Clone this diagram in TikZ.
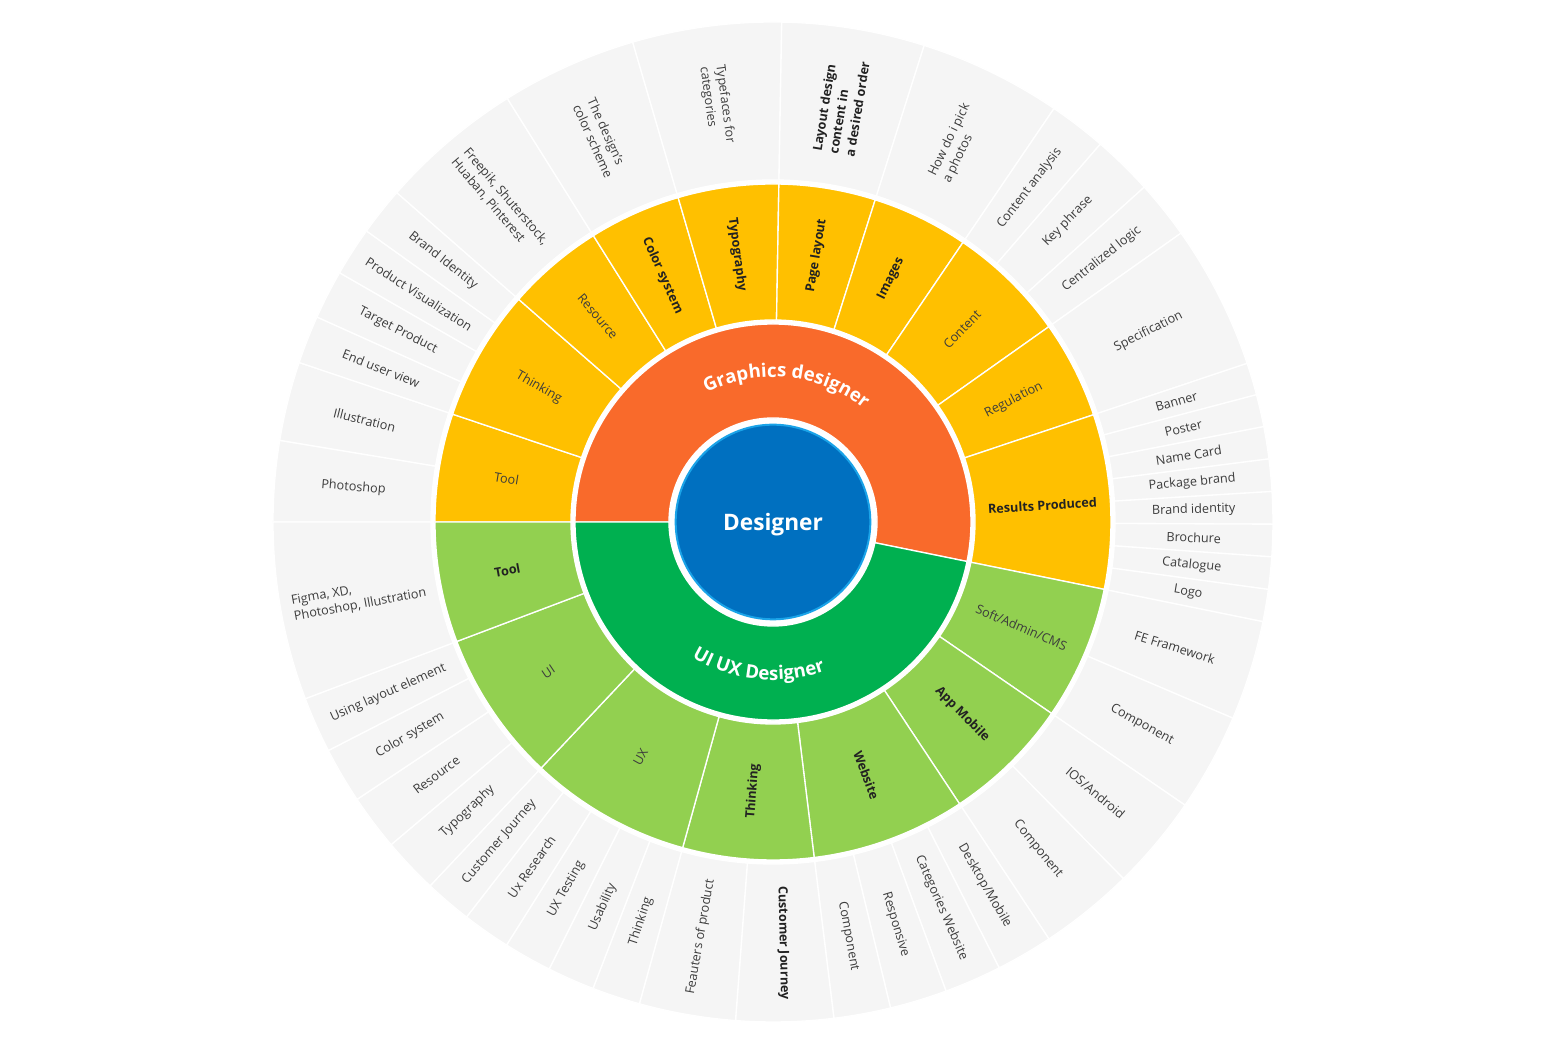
\documentclass[tikz,border=0pt]{standalone}
\usepackage{fontspec}
\setmainfont{Open Sans}
\usetikzlibrary{decorations.text}

\definecolor{orangeGD}{HTML}{F96A2B}
\definecolor{greenUX}{HTML}{00B050}
\definecolor{yellowBr}{HTML}{FFC000}
\definecolor{greenBr}{HTML}{92D050}
\definecolor{leafgray}{HTML}{F5F5F5}
\definecolor{coreblue}{HTML}{0070C0}
\definecolor{rimblue}{HTML}{1AA3E8}
\definecolor{txtgray}{HTML}{3C3C3C}
\definecolor{txtdark}{HTML}{222222}

\tikzset{
  seg/.style={draw=white, line width=1pt},
  lbl/.style={font=\fontsize{9.5}{12}\selectfont, text=txtgray, align=left, inner sep=0pt},
  lblb/.style={lbl, font=\fontsize{9.5}{12.5}\selectfont\bfseries, text=txtdark},
}

% one ring sector: start, end, inner radius, outer radius, fill
\newcommand{\sunseg}[5]{\filldraw[seg, fill=#5] (#1:#3) arc[start angle=#1, end angle=#2, radius=#3] -- (#2:#4) arc[start angle=#2, end angle=#1, radius=#4] -- cycle;}
% radial label: name, start, end, radius, style, text
\newcommand{\sunlabel}[6]{%
  \pgfmathsetmacro{\midang}{(#2+#3)/2}%
  \pgfmathsetmacro{\txtrot}{abs(\midang)>90 ? \midang-180 : \midang}%
  \node[#5, rotate=\txtrot] (#1) at (\midang:#4) {#6};}
\newcommand{\branch}[6]{\sunseg{#2}{#3}{202}{338}{#4}\sunlabel{#1}{#2}{#3}{270}{#5}{#6}}
\newcommand{\leaf}[5]{\sunseg{#2}{#3}{342}{500}{leafgray}\sunlabel{#1}{#2}{#3}{421}{#4}{#5}}
\newcommand{\curvedfont}{\fontsize{14}{16}\selectfont\bfseries\color{white}}

\begin{document}
\begin{tikzpicture}[x=0.75pt, y=0.75pt]
    \fill[white] (-773,-522) rectangle (773,522);
    \useasboundingbox (-773,-522) rectangle (773,522);

    % inner ring
    \sunseg{-11.5}{180}{104}{198}{orangeGD}
    \sunseg{-180}{-11.5}{104}{198}{greenUX}
    \path[decorate, decoration={text along path, text align=center,
        text={|\curvedfont|Graphics designer}}]
        (144.25:145) arc[start angle=144.25, end angle=24.25, radius=145];
    \path[decorate, decoration={text along path, text align=center,
        text={|\curvedfont|UI UX Designer}}]
        (-155.75:158) arc[start angle=-155.75, end angle=-35.75, radius=158];

    % centre
    \node[circle, fill=coreblue, draw=rimblue, line width=1.5pt, minimum size=146pt] (core) at (0,0) {};
    \node[text=white, font=\fontsize{17}{20}\selectfont\bfseries] (coretext) at (0,-3) {Designer};

    % Graphics designer branches
    \branch{gTool}{161.4}{180}{yellowBr}{lbl}{Tool}
    \branch{gThinking}{138.8}{161.4}{yellowBr}{lbl}{Thinking}
    \branch{gResource}{122.1}{138.8}{yellowBr}{lbl}{Resource}
    \branch{gColor}{106.3}{122.1}{yellowBr}{lblb}{Color system}
    \branch{gTypo}{89}{106.3}{yellowBr}{lblb}{Typography}
    \branch{gLayout}{72.4}{89}{yellowBr}{lblb}{Page layout}
    \branch{gImages}{55.8}{72.4}{yellowBr}{lblb}{Images}
    \branch{gContent}{35.3}{55.8}{yellowBr}{lbl}{Content}
    \branch{gRegulation}{18.5}{35.3}{yellowBr}{lbl}{Regulation}
    \branch{gResults}{-11.5}{18.5}{yellowBr}{lblb}{Results Produced}

    % UI UX Designer branches
    \branch{uSoft}{-34.5}{-11.5}{greenBr}{lbl}{Soft/Admin/CMS}
    \branch{uApp}{-56.5}{-34.5}{greenBr}{lblb}{App Mobile}
    \branch{uWeb}{-83}{-56.5}{greenBr}{lblb}{Website}
    \branch{uThinking}{-105.5}{-83}{greenBr}{lblb}{Thinking}
    \branch{uUX}{-133.3}{-105.5}{greenBr}{lbl}{UX}
    \branch{uUI}{-159.3}{-133.3}{greenBr}{lbl}{UI}
    \branch{uTool}{-180}{-159.3}{greenBr}{lblb}{Tool}

    % leaves, graphics side
    \leaf{lPhotoshop}{170.6}{180}{lbl}{Photoshop}
    \leaf{lIllustration}{161.4}{170.6}{lbl}{Illustration}
    \leaf{lEndUser}{155.8}{161.4}{lbl}{End user view}
    \leaf{lTarget}{150.1}{155.8}{lbl}{Target Product}
    \leaf{lProdVis}{144.4}{150.1}{lbl}{Product Visualization}
    \leaf{lBrandId}{138.8}{144.4}{lbl}{Brand Identity}
    \leaf{lFreepik}{122.1}{138.8}{lbl}{Freepik, Shuterstock,\\Huaban, Pinterest}
    \leaf{lScheme}{106.3}{122.1}{lbl}{The design's\\color scheme}
    \leaf{lTypefaces}{89}{106.3}{lbl}{Typefaces for\\categories}
    \leaf{lOrder}{72.4}{89}{lblb}{Layout design\\content in\\a desired order}
    \leaf{lPhotos}{55.8}{72.4}{lbl}{How do i pick\\a photos}
    \leaf{lAnalysis}{49.1}{55.8}{lbl}{Content analysis}
    \leaf{lPhrase}{42.05}{49.1}{lbl}{Key phrase}
    \leaf{lLogic}{35.3}{42.05}{lbl}{Centralized logic}
    \leaf{lSpec}{18.5}{35.3}{lbl}{Specification}
    \leaf{lBanner}{14.75}{18.5}{lbl}{Banner}
    \leaf{lPoster}{11}{14.75}{lbl}{Poster}
    \leaf{lNameCard}{7.25}{11}{lbl}{Name Card}
    \leaf{lPackage}{3.5}{7.25}{lbl}{Package brand}
    \leaf{lBrandIdent}{-0.25}{3.5}{lbl}{Brand identity}
    \leaf{lBrochure}{-4}{-0.25}{lbl}{Brochure}
    \leaf{lCatalogue}{-7.75}{-4}{lbl}{Catalogue}
    \leaf{lLogo}{-11.5}{-7.75}{lbl}{Logo}

    % leaves, UI UX side
    \leaf{lFE}{-23.1}{-11.5}{lbl}{FE Framework}
    \leaf{lSoftComp}{-34.5}{-23.1}{lbl}{Component}
    \leaf{lIOS}{-45.5}{-34.5}{lbl}{IOS/Android}
    \leaf{lAppComp}{-56.5}{-45.5}{lbl}{Component}
    \leaf{lDesktop}{-63.1}{-56.5}{lbl}{Desktop/Mobile}
    \leaf{lCategories}{-69.75}{-63.1}{lbl}{Categories Website}
    \leaf{lResponsive}{-76.4}{-69.75}{lbl}{Responsive}
    \leaf{lWebComp}{-83}{-76.4}{lbl}{Component}
    \leaf{lJourney}{-94.3}{-83}{lblb}{Customer Journey}
    \leaf{lFeatures}{-105.5}{-94.3}{lbl}{Feauters of product}
    \leaf{lUXThinking}{-111.1}{-105.5}{lbl}{Thinking}
    \leaf{lUsability}{-116.6}{-111.1}{lbl}{Usability}
    \leaf{lTesting}{-122.2}{-116.6}{lbl}{UX Testing}
    \leaf{lResearch}{-127.8}{-122.2}{lbl}{Ux Research}
    \leaf{lUXJourney}{-133.3}{-127.8}{lbl}{Customer Journey}
    \leaf{lTypography}{-139.8}{-133.3}{lbl}{Typography}
    \leaf{lResource}{-146.3}{-139.8}{lbl}{Resource}
    \leaf{lColor}{-152.8}{-146.3}{lbl}{Color system}
    \leaf{lUsing}{-159.3}{-152.8}{lbl}{Using layout element}
    \leaf{lFigma}{-180}{-159.3}{lbl}{Figma, XD,\\Photoshop, Illustration}
\end{tikzpicture}
\end{document}
